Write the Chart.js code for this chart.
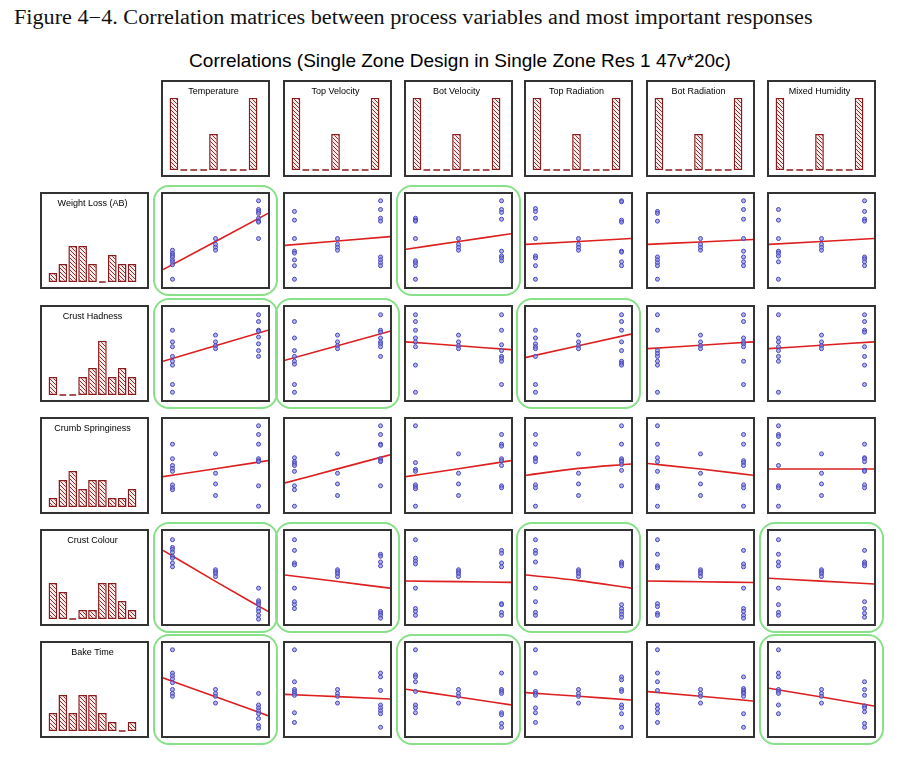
<!DOCTYPE html>
<html>
<head>
<meta charset="utf-8">
<script src="https://cdn.jsdelivr.net/npm/chart.js@4.4.1/dist/chart.umd.min.js"></script>
<style>
body { margin: 0; background: #fff; }
#page { position: relative; width: 906px; height: 763px; overflow: hidden; }
.caption { position: absolute; left: 14px; top: 6px; font-family: 'Liberation Serif', serif; font-size: 20px; white-space: nowrap; color: #111; transform: scaleX(1.11); transform-origin: left top; }
.title { position: absolute; left: 0; width: 920px; top: 50px; text-align: center; font-family: 'Liberation Sans', Arial, sans-serif; font-size: 19px; color: #000; white-space: nowrap; }
.cell { position: absolute; width: 109px; height: 97px; box-sizing: border-box; border: 2px solid #333; background: #fff; }
.cell canvas { display: block; }
.sig { position: absolute; box-sizing: border-box; border: 2px solid #88e088; border-radius: 16px; }
</style>
</head>
<body>
<div id="page">
  <div class="caption">Figure 4−4. Correlation matrices between process variables and most important responses</div>
  <div class="title">Correlations (Single Zone Design in Single Zone Res 1 47v*20c)</div>
</div>
<script>
// process variables (columns) and responses (rows)
const variables = ['Temperature', 'Top Velocity', 'Bot Velocity', 'Top Radiation', 'Bot Radiation', 'Mixed Humidity'];
const responses = ['Weight Loss (AB)', 'Crust Hadness', 'Crumb Springiness', 'Crust Colour', 'Bake Time'];

// histogram counts, 9 bins each
const levelCounts = [8, 0, 0, 0, 4, 0, 0, 0, 8];
const histWeightLoss = [1, 2, 4, 4, 2, 0, 3, 2, 2];
const histCrustHadness = [2, 0, 0, 2, 3, 6, 2, 3, 2];
const histCrumbSpringiness = [1, 3, 4, 2, 3, 3, 1, 1, 2];
const histCrustColour = [4, 3, 0, 1, 1, 4, 4, 2, 1];
const histBakeTime = [2, 4, 2, 4, 4, 2, 1, 0, 1];

// scatter values (0-100 response scale): runs at centre level, low level and high level per variable
const centerWeightLoss = [52, 46, 43, 40];
const lowWeightLoss = [
  [40, 37, 35, 33, 30, 28, 25, 10], [80, 71, 52, 39, 37, 30, 24, 10], [73, 71, 70, 52, 29, 27, 24, 10],
  [83, 80, 73, 52, 34, 32, 24, 10], [80, 78, 70, 33, 30, 27, 24, 10], [82, 71, 52, 39, 37, 34, 28, 10]
];
const highWeightLoss = [
  [91, 82, 80, 78, 73, 70, 69, 52], [91, 82, 73, 70, 33, 30, 27, 24], [91, 82, 79, 72, 39, 34, 32, 29],
  [91, 90, 71, 69, 39, 38, 28, 24], [91, 82, 72, 52, 39, 33, 28, 24], [91, 80, 72, 70, 33, 31, 28, 24]
];
const fitWeightLoss = [[20, 49, 78], [45, 49.5, 54], [41, 49, 57], [46, 49, 52], [46, 48.5, 51], [46, 49, 52]];

const centerCrustHadness = [69, 62, 58, 55];
const lowCrustHadness = [
  [74, 62, 57, 47, 42, 38, 18, 10], [83, 66, 53, 47, 42, 39, 18, 10], [90, 83, 74, 66, 62, 57, 38, 10],
  [74, 66, 60, 57, 55, 47, 18, 10], [90, 74, 53, 50, 47, 42, 38, 10], [90, 66, 62, 57, 53, 47, 42, 10]
];
const highCrustHadness = [
  [90, 83, 74, 73, 67, 60, 53, 47], [90, 74, 72, 66, 62, 60, 57, 47], [90, 74, 59, 53, 47, 45, 42, 18],
  [90, 83, 74, 62, 53, 42, 40, 38], [90, 83, 66, 62, 60, 57, 42, 18], [90, 83, 74, 72, 57, 47, 38, 18]
];
const fitCrustHadness = [[42, 58, 74], [43, 58, 73], [62, 58, 54], [46, 58, 70], [55, 58.5, 62], [55, 58.5, 62]];

const centerCrumbSpringiness = [62, 42, 31, 19];
const lowCrumbSpringiness = [
  [72, 57, 50, 47, 44, 30, 27, 25], [58, 54, 52, 50, 44, 29, 25, 8], [91, 53, 46, 44, 30, 28, 26, 8],
  [82, 72, 58, 57, 54, 30, 27, 8], [91, 72, 58, 54, 44, 29, 27, 8], [91, 82, 80, 72, 50, 29, 27, 8]
];
const highCrumbSpringiness = [
  [91, 82, 72, 57, 55, 54, 29, 8], [91, 82, 72, 71, 57, 55, 54, 29], [82, 72, 70, 57, 55, 50, 29, 27],
  [91, 72, 57, 55, 54, 51, 45, 29], [82, 72, 55, 53, 50, 30, 27, 8], [72, 58, 57, 54, 45, 44, 30, 27]
];
const fitCrumbSpringiness = [[38.5, 46.7, 55], [32, 46.5, 61], [38.5, 46.7, 55], [40, 47, 51.6], [52, 46.4, 40], [46.4, 46.4, 46.4]];

const centerCrustColour = [58, 56, 54, 51];
const lowCrustColour = [
  [89, 81, 79, 76, 72, 70, 65, 61], [89, 78, 65, 63, 39, 25, 22, 18], [89, 70, 67, 64, 39, 18, 15, 11],
  [89, 78, 75, 66, 39, 25, 14, 11], [89, 74, 62, 60, 23, 20, 13, 11], [89, 74, 66, 62, 39, 22, 14, 11]
];
const highCrustColour = [
  [39, 26, 24, 22, 18, 15, 11, 7], [74, 72, 66, 62, 15, 13, 11, 8], [78, 75, 65, 61, 23, 22, 14, 11],
  [66, 64, 62, 22, 18, 15, 12, 9], [78, 64, 61, 39, 18, 15, 11, 8], [78, 66, 64, 62, 25, 18, 13, 9]
];
const fitCrustColour = [[78, 46, 15], [52.6, 45.8, 39], [46.4, 45.7, 45], [52.6, 46.8, 39], [46.4, 45.6, 44.8], [49.2, 46.3, 43.3]];

const centerBakeTime = [50, 46, 43, 36];
const lowBakeTime = [
  [91, 67, 64, 61, 57, 50, 46, 43], [91, 58, 50, 48, 46, 44, 26, 16], [91, 65, 63, 58, 48, 34, 31, 26],
  [91, 67, 48, 46, 44, 31, 26, 16], [91, 67, 58, 49, 34, 30, 26, 16], [91, 67, 63, 50, 48, 46, 34, 25]
];
const highBakeTime = [
  [46, 34, 31, 28, 25, 20, 13, 10], [67, 63, 49, 34, 31, 28, 25, 11], [67, 50, 48, 46, 26, 24, 15, 11],
  [63, 60, 50, 48, 34, 31, 25, 11], [63, 51, 49, 47, 46, 43, 25, 11], [58, 50, 44, 33, 31, 27, 15, 11]
];
const fitBakeTime = [[62, 42.6, 23], [45, 42.6, 40.2], [50.2, 42.2, 34.1], [46.8, 43, 39.2], [47.8, 43, 38.2], [51.3, 42.2, 33]];

// cells with a significant correlation (green frame)
const significant = [
  [1, 0, 1, 0, 0, 0],
  [1, 1, 0, 1, 0, 0],
  [0, 0, 0, 0, 0, 0],
  [1, 1, 0, 1, 0, 1],
  [1, 0, 1, 0, 0, 1]
];

const responseHists = [histWeightLoss, histCrustHadness, histCrumbSpringiness, histCrustColour, histBakeTime];
const responseCenter = [centerWeightLoss, centerCrustHadness, centerCrumbSpringiness, centerCrustColour, centerBakeTime];
const responseLow = [lowWeightLoss, lowCrustHadness, lowCrumbSpringiness, lowCrustColour, lowBakeTime];
const responseHigh = [highWeightLoss, highCrustHadness, highCrumbSpringiness, highCrustColour, highBakeTime];
const responseFit = [fitWeightLoss, fitCrustHadness, fitCrumbSpringiness, fitCrustColour, fitBakeTime];

const colLeft = [40, 161, 283, 404, 524, 646, 767];
const rowTop = [80, 192, 305, 417, 529, 641];
const page = document.getElementById('page');

Chart.defaults.font.family = "'Liberation Sans', Arial, sans-serif";
Chart.defaults.animation = false;

// diagonal hatch fill for histogram bars
function makeHatch() {
  const c = document.createElement('canvas');
  c.width = 4; c.height = 4;
  const g = c.getContext('2d');
  g.fillStyle = '#fbecec';
  g.fillRect(0, 0, 4, 4);
  g.strokeStyle = '#8e2b2b';
  g.lineWidth = 1;
  g.beginPath();
  g.moveTo(-1, -1); g.lineTo(5, 5);
  g.moveTo(-1, 3); g.lineTo(1, 5);
  g.moveTo(3, -1); g.lineTo(5, 1);
  g.stroke();
  return g.createPattern(c, 'repeat');
}
const hatch = makeHatch();

// empty bins are shown as a short line on the baseline
const zeroBins = {
  id: 'zeroBins',
  afterDatasetsDraw(chart) {
    const meta = chart.getDatasetMeta(0);
    const data = chart.data.datasets[0].data;
    const ctx = chart.ctx;
    ctx.save();
    ctx.strokeStyle = '#8b1a1a';
    ctx.lineWidth = 1.5;
    meta.data.forEach((bar, i) => {
      if (data[i] === 0) {
        const p = bar.getProps(['x', 'base', 'width'], true);
        ctx.beginPath();
        ctx.moveTo(p.x - p.width / 2 + 1, p.base);
        ctx.lineTo(p.x + p.width / 2 - 1, p.base);
        ctx.stroke();
      }
    });
    ctx.restore();
  }
};

function addCell(row, col) {
  const div = document.createElement('div');
  div.className = 'cell';
  div.style.left = colLeft[col] + 'px';
  div.style.top = rowTop[row] + 'px';
  const canvas = document.createElement('canvas');
  canvas.width = 105;
  canvas.height = 93;
  div.appendChild(canvas);
  page.appendChild(div);
  return canvas;
}

function addFrame(row, col) {
  const f = document.createElement('div');
  f.className = 'sig';
  f.style.left = (colLeft[col] - 8) + 'px';
  f.style.top = (rowTop[row] - 7) + 'px';
  f.style.width = (109 + 16) + 'px';
  f.style.height = (97 + 14) + 'px';
  page.appendChild(f);
}

function createHistogram(canvas, label, counts) {
  return new Chart(canvas, {
    type: 'bar',
    data: {
      labels: counts.map((_, i) => i),
      datasets: [{
        data: counts,
        backgroundColor: hatch,
        borderColor: '#8b1a1a',
        borderWidth: 1.5,
        borderSkipped: false,
        categoryPercentage: 1,
        barPercentage: 0.88
      }]
    },
    options: {
      responsive: false,
      devicePixelRatio: 1,
      events: [],
      layout: { autoPadding: false, padding: { left: 6, right: 10, bottom: 5, top: 0 } },
      scales: {
        x: { display: false },
        y: { display: false, min: 0, max: 8 }
      },
      plugins: {
        legend: { display: false },
        tooltip: { enabled: false },
        title: {
          display: true,
          text: label,
          color: '#000',
          font: { size: 9, weight: 'normal' },
          padding: { top: 4, bottom: 1 }
        }
      }
    },
    plugins: [zeroBins]
  });
}

function createScatter(canvas, low, center, high, fit) {
  const pts = [];
  low.forEach(v => pts.push({ x: -1, y: v }));
  center.forEach(v => pts.push({ x: 0, y: v }));
  high.forEach(v => pts.push({ x: 1, y: v }));
  return new Chart(canvas, {
    type: 'scatter',
    data: {
      datasets: [{
        data: pts,
        pointRadius: 2,
        pointBackgroundColor: 'rgba(140,140,225,0.65)',
        pointBorderColor: '#4646c0',
        pointBorderWidth: 1
      }, {
        data: [{ x: -1.22, y: fit[0] }, { x: 0, y: fit[1] }, { x: 1.22, y: fit[2] }],
        showLine: true,
        pointRadius: 0,
        borderColor: '#dd1f1f',
        borderWidth: 1.6,
        cubicInterpolationMode: 'monotone'
      }]
    },
    options: {
      responsive: false,
      devicePixelRatio: 1,
      events: [],
      layout: { autoPadding: false, padding: 0 },
      scales: {
        x: { display: false, min: -1.22, max: 1.22 },
        y: { display: false, min: 2, max: 98 }
      },
      plugins: { legend: { display: false }, tooltip: { enabled: false } }
    }
  });
}

// green frames first so the cells sit on top
significant.forEach((r, i) => r.forEach((s, j) => { if (s) addFrame(i + 1, j + 1); }));

// top row: level histograms of process variables
variables.forEach((v, j) => createHistogram(addCell(0, j + 1), v, levelCounts));

// response rows
responses.forEach((name, i) => {
  createHistogram(addCell(i + 1, 0), name, responseHists[i]);
  variables.forEach((v, j) => {
    createScatter(addCell(i + 1, j + 1), responseLow[i][j], responseCenter[i], responseHigh[i][j], responseFit[i][j]);
  });
});
</script>
</body>
</html>
